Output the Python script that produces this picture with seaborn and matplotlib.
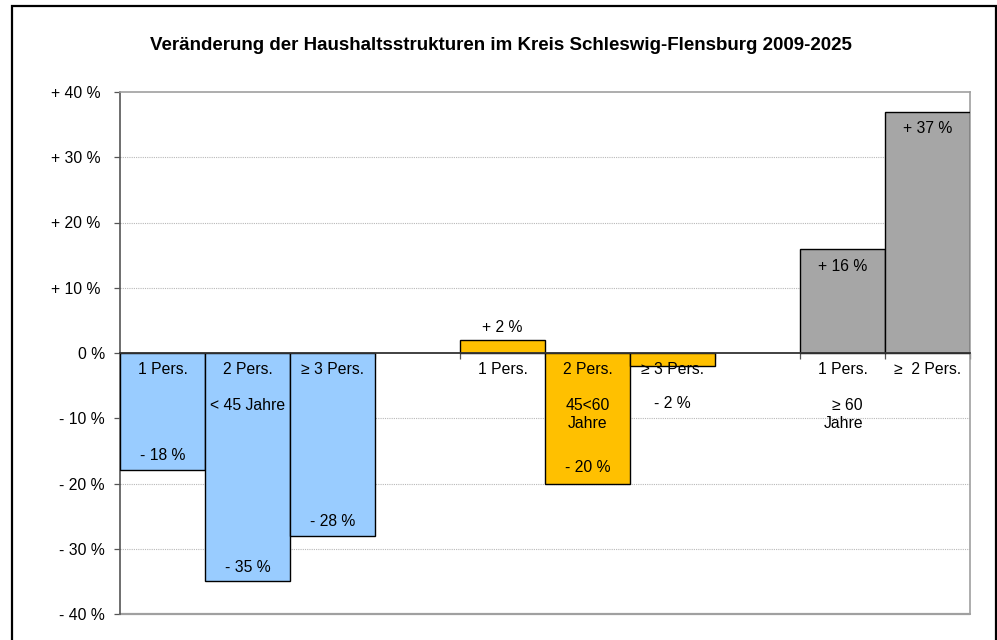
import matplotlib
matplotlib.use("Agg")
import matplotlib.pyplot as plt
from matplotlib.patches import Rectangle
import seaborn as sns
import pandas as pd

# Household types per age group, change 2009-2025 in percent
slots = ["u45_1", "u45_2", "u45_3", "gap_a", "m45_1", "m45_2", "m45_3", "gap_b", "a60_1", "a60_2"]
blue_keys = ["u45_1", "u45_2", "u45_3"]
blue_values = [-18, -35, -28]
yellow_keys = ["m45_1", "m45_2", "m45_3"]
yellow_values = [2, -20, -2]
gray_keys = ["a60_1", "a60_2"]
gray_values = [16, 37]

bar_names = ["1 Pers.", "2 Pers.", "≥ 3 Pers.", "1 Pers.", "2 Pers.", "≥ 3 Pers.", "1 Pers.", "≥  2 Pers."]
y_ticks = [-40, -30, -20, -10, 0, 10, 20, 30, 40]
y_tick_labels = ["- 40 %", "- 30 %", "- 20 %", "- 10 %", "0 %", "+ 10 % ", "+ 20 % ", "+ 30 % ", "+ 40 % "]
title = "Veränderung der Haushaltsstrukturen im Kreis Schleswig-Flensburg 2009-2025"

palette = {"unter 45": "#99CCFF", "45 bis 60": "#FFC000", "ab 60": "#A6A6A6"}

df = pd.DataFrame({
    "slot": blue_keys + yellow_keys + gray_keys,
    "value": blue_values + yellow_values + gray_values,
    "group": ["unter 45"] * 3 + ["45 bis 60"] * 3 + ["ab 60"] * 2,
    "name": bar_names,
})

sns.set_theme(style="white")
plt.rcParams["font.family"] = ["Liberation Sans", "DejaVu Sans"]
plt.rcParams["text.color"] = "black"
plt.rcParams["ytick.color"] = "black"
plt.rcParams["xtick.color"] = "black"

FS = 11.3
fig = plt.figure(figsize=(9.97, 6.40), dpi=100)
ax = fig.add_axes([120 / 997, 1 - 614 / 640, 850 / 997, 522 / 640])

sns.barplot(data=df, x="slot", y="value", hue="group", order=slots, palette=palette,
            dodge=False, width=1.0, saturation=1, edgecolor="black", linewidth=1.0,
            legend=False, ax=ax, zorder=3)

ax.set_ylim(-40, 40)
ax.set_xlim(-0.5, len(slots) - 0.5)
ax.set_yticks(y_ticks)
ax.set_yticklabels(y_tick_labels, fontsize=FS, color="black")
ax.set_xlabel("")
ax.set_ylabel("")

# dotted grid
for yv in y_ticks:
    if yv not in (0, 40, -40):
        ax.axhline(yv, color="#B8B8B8", lw=0.8, ls=(0, (1, 1)), zorder=0)

# frame of the plot area
for side in ["top", "right"]:
    ax.spines[side].set_color("#A0A0A0")
    ax.spines[side].set_linewidth(1.2)
ax.spines["left"].set_color("#555555")
ax.spines["left"].set_linewidth(1.2)
ax.axhline(-40, color="#A0A0A0", lw=1.6, clip_on=False, zorder=2)

# category axis along the zero line
ax.spines["bottom"].set_position(("data", 0))
ax.spines["bottom"].set_color("#333333")
ax.spines["bottom"].set_linewidth(1.3)
ax.spines["bottom"].set_zorder(4)
ax.set_xticks([i + 0.5 for i in range(-1, len(slots))])
ax.set_xticklabels([])
ax.tick_params(axis="x", bottom=True, direction="out", length=4, width=0.9, color="#555555")
ax.tick_params(axis="y", left=True, direction="out", length=4, width=0.9, color="#555555", pad=7,
               labelcolor="black")

# labels inside and beside the bars (offsets in pixels, upward positive)
PT = 0.72  # points per pixel at 100 dpi
xpos = {s: i for i, s in enumerate(slots)}
value_offsets = [15, 14, 14, 12, 16, -37, -18, -17]
for (_, row), off in zip(df.iterrows(), value_offsets):
    x = xpos[row["slot"]]
    v = row["value"]
    txt = f"+ {v} %" if v > 0 else f"- {abs(v)} %"
    ax.annotate(txt, (x, v), xytext=(0, off * PT), textcoords="offset points",
                ha="center", va="center", fontsize=FS, zorder=5)
    ax.annotate(row["name"], (x, 0), xytext=(0, -16 * PT), textcoords="offset points",
                ha="center", va="center", fontsize=FS, zorder=5)

extra = [("u45_2", "< 45 Jahre", -53, 0),
         ("m45_2", "45<60", -53, 0),
         ("m45_2", "Jahre", -70, 0),
         ("a60_1", "≥ 60", -53, 5),
         ("a60_1", "Jahre", -70, 1)]
for key, txt, dy, dx in extra:
    ax.annotate(txt, (xpos[key], 0), xytext=(dx * PT, dy * PT), textcoords="offset points",
                ha="center", va="center", fontsize=FS, zorder=5)

ax.text(501 / 997, 1 - 46 / 640, title, transform=fig.transFigure, ha="center", va="center",
        fontsize=13.5, fontweight="bold")

fig.patches.append(Rectangle((12 / 997, -0.02), 984 / 997, 1 - 6 / 640 + 0.02,
                             transform=fig.transFigure, fill=False, edgecolor="black", lw=1.6))

fig.savefig("out.png", dpi=100)
